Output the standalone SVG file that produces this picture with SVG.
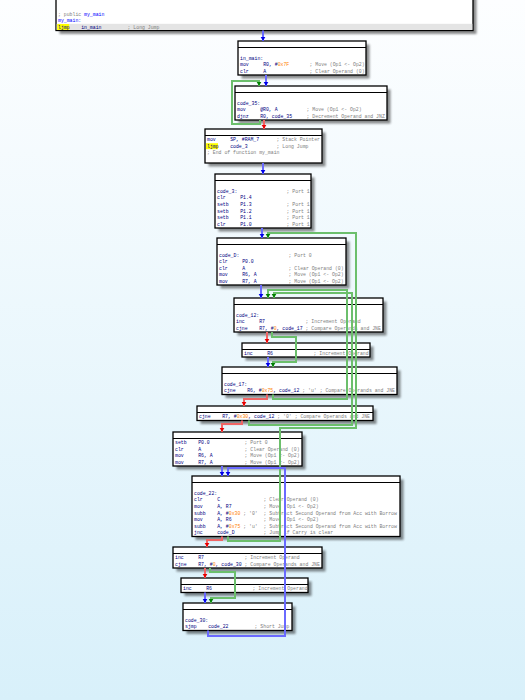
<svg xmlns="http://www.w3.org/2000/svg" width="525" height="700" viewBox="0 0 525 700" xml:space="preserve">
<defs>
<linearGradient id="bg" x1="0" y1="0" x2="0" y2="1"><stop offset="0" stop-color="#fdfeff"/><stop offset="1" stop-color="#d8f0fa"/></linearGradient>
<filter id="blur" x="-10%" y="-10%" width="120%" height="120%"><feGaussianBlur stdDeviation="1.3"/></filter>
<marker id="ab" viewBox="0 -3 5 6" refX="4.5" refY="0" markerWidth="5" markerHeight="6" markerUnits="userSpaceOnUse" orient="auto"><path d="M0,-2.6 L4.5,0 L0,2.6 z" fill="#0000e8"/></marker>
<marker id="ag" viewBox="0 -3 5 6" refX="4.5" refY="0" markerWidth="5" markerHeight="6" markerUnits="userSpaceOnUse" orient="auto"><path d="M0,-2.6 L4.5,0 L0,2.6 z" fill="#008000"/></marker>
<marker id="ar" viewBox="0 -3 5 6" refX="4.5" refY="0" markerWidth="5" markerHeight="6" markerUnits="userSpaceOnUse" orient="auto"><path d="M0,-2.6 L4.5,0 L0,2.6 z" fill="#e80000"/></marker>
</defs>
<style>
text{font-family:"Liberation Mono","DejaVu Sans Mono",monospace;font-size:4.83px;fill:#000080;white-space:pre}
.c{fill:#808080}
.n{fill:#ff8000}
.nm{fill:#0000ff}
.box{fill:#ffffff;stroke:#000000;stroke-width:1.3}
.sh{fill:#000000;opacity:.45;filter:url(#blur)}
.hd{stroke:#000000;stroke-width:1}
.hl{fill:#e4e4e4}
.yl{fill:#ffff00}
.e{fill:none;stroke-width:2}
.eb{stroke:#6a6aff;marker-end:url(#ab)}
.eg{stroke:#6cbf6c;marker-end:url(#ag)}
.er{stroke:#f06666;marker-end:url(#ar)}
</style>
<rect x="0" y="0" width="525" height="700" fill="url(#bg)"/>

<g id="n_my_main">
<rect class="sh" x="59.5" y="-16.5" width="417" height="50.5"/>
<rect class="box" x="56" y="-20" width="417" height="50.5"/>
<rect class="hl" x="56.7" y="23.8" width="415.6" height="6.2"/>
<rect class="yl" x="57.2" y="24" width="12" height="6"/>
<text x="58" y="15.5"><tspan class="c">; public </tspan><tspan class="nm">my_main</tspan></text>
<text x="58" y="22" class="nm">my_main:</text>
<text x="58" y="28.5">ljmp    in_main<tspan class="c">         ; Long Jump</tspan></text>
</g>

<g id="n_in_main">
<rect class="sh" x="241.5" y="44.5" width="128" height="34"/>
<rect class="box" x="238" y="41" width="128" height="34"/>
<line class="hd" x1="238" y1="47.5" x2="366" y2="47.5"/>
<text x="240" y="59.7">in_main:</text>
<text x="240" y="66.3">mov     R0, #<tspan class="n">0x7F</tspan><tspan class="c">       ; Move (Op1 &lt;- Op2)</tspan></text>
<text x="240" y="72.9">clr     A<tspan class="c">               ; Clear Operand (0)</tspan></text>
</g>

<g id="n_code_35">
<rect class="sh" x="238.5" y="89.5" width="152" height="34"/>
<rect class="box" x="235" y="86" width="152" height="34"/>
<line class="hd" x1="235" y1="92.5" x2="387" y2="92.5"/>
<text x="237" y="104.7">code_35:</text>
<text x="237" y="111.3">mov     @R0, A<tspan class="c">          ; Move (Op1 &lt;- Op2)</tspan></text>
<text x="237" y="117.9">djnz    R0, code_35<tspan class="c">     ; Decrement Operand and JNZ</tspan></text>
</g>

<g id="n_stack">
<rect class="sh" x="208.5" y="132.5" width="117" height="34"/>
<rect class="box" x="205" y="129" width="117" height="34"/>
<line class="hd" x1="205" y1="135.5" x2="322" y2="135.5"/>
<rect class="yl" x="206" y="143.2" width="12" height="6"/>
<text x="207" y="141.1">mov     SP, #RAM_7<tspan class="c">      ; Stack Pointer</tspan></text>
<text x="207" y="147.7">ljmp    code_3<tspan class="c">          ; Long Jump</tspan></text>
<text x="207" y="154.3" class="c">; End of function my_main</text>
</g>

<g id="n_code_3">
<rect class="sh" x="218.5" y="177.5" width="96" height="54"/>
<rect class="box" x="215" y="174" width="96" height="54"/>
<line class="hd" x1="215" y1="180.5" x2="311" y2="180.5"/>
<text x="217" y="192.7">code_3:<tspan class="c">                 ; Port 1</tspan></text>
<text x="217" y="199.3">clr     P1.4</text>
<text x="217" y="205.9">setb    P1.3<tspan class="c">            ; Port 1</tspan></text>
<text x="217" y="212.5">setb    P1.2<tspan class="c">            ; Port 1</tspan></text>
<text x="217" y="219.1">setb    P1.1<tspan class="c">            ; Port 1</tspan></text>
<text x="217" y="225.7">clr     P1.0<tspan class="c">            ; Port 1</tspan></text>
</g>

<g id="n_code_D">
<rect class="sh" x="220.5" y="241.5" width="129" height="47"/>
<rect class="box" x="217" y="238" width="129" height="47"/>
<line class="hd" x1="217" y1="244.5" x2="346" y2="244.5"/>
<text x="219" y="256.5">code_D:<tspan class="c">                 ; Port 0</tspan></text>
<text x="219" y="263.1">clr     P0.0</text>
<text x="219" y="269.7">clr     A<tspan class="c">               ; Clear Operand (0)</tspan></text>
<text x="219" y="276.3">mov     R6, A<tspan class="c">           ; Move (Op1 &lt;- Op2)</tspan></text>
<text x="219" y="282.9">mov     R7, A<tspan class="c">           ; Move (Op1 &lt;- Op2)</tspan></text>
</g>

<g id="n_code_12">
<rect class="sh" x="237.5" y="301.5" width="149" height="34"/>
<rect class="box" x="234" y="298" width="149" height="34"/>
<line class="hd" x1="234" y1="304.5" x2="383" y2="304.5"/>
<text x="236" y="316.7">code_12:</text>
<text x="236" y="323.3">inc     R7<tspan class="c">              ; Increment Operand</tspan></text>
<text x="236" y="329.9">cjne    R7, #<tspan class="n">0</tspan>, code_17<tspan class="c"> ; Compare Operands and JNE</tspan></text>
</g>

<g id="n_inc_r6_a">
<rect class="sh" x="245.5" y="346.5" width="128" height="14"/>
<rect class="box" x="242" y="343" width="128" height="14"/>
<line class="hd" x1="242" y1="349.5" x2="370" y2="349.5"/>
<text x="244" y="355.3">inc     R6<tspan class="c">              ; Increment Operand</tspan></text>
</g>

<g id="n_code_17">
<rect class="sh" x="225.5" y="370.5" width="175" height="27.5"/>
<rect class="box" x="222" y="367" width="175" height="27.5"/>
<line class="hd" x1="222" y1="373.5" x2="397" y2="373.5"/>
<text x="224" y="385.7">code_17:</text>
<text x="224" y="392.3">cjne    R6, #<tspan class="n">0x75</tspan>, code_12<tspan class="c"> ; 'u' ; Compare Operands and JNE</tspan></text>
</g>

<g id="n_cjne_r7">
<rect class="sh" x="200.5" y="409.5" width="176" height="14.5"/>
<rect class="box" x="197" y="406" width="176" height="14.5"/>
<line class="hd" x1="197" y1="412.5" x2="373" y2="412.5"/>
<text x="199" y="418.3">cjne    R7, #<tspan class="n">0x30</tspan>, code_12<tspan class="c"> ; '0' ; Compare Operands and JNE</tspan></text>
</g>

<g id="n_setb">
<rect class="sh" x="176.5" y="435.5" width="129" height="34"/>
<rect class="box" x="173" y="432" width="129" height="34"/>
<line class="hd" x1="173" y1="438.5" x2="302" y2="438.5"/>
<text x="175" y="444.1">setb    P0.0<tspan class="c">            ; Port 0</tspan></text>
<text x="175" y="450.7">clr     A<tspan class="c">               ; Clear Operand (0)</tspan></text>
<text x="175" y="457.3">mov     R6, A<tspan class="c">           ; Move (Op1 &lt;- Op2)</tspan></text>
<text x="175" y="463.9">mov     R7, A<tspan class="c">           ; Move (Op1 &lt;- Op2)</tspan></text>
</g>

<g id="n_code_22">
<rect class="sh" x="195.5" y="479.5" width="208" height="60.5"/>
<rect class="box" x="192" y="476" width="208" height="60.5"/>
<line class="hd" x1="192" y1="482.5" x2="400" y2="482.5"/>
<text x="194" y="494.7">code_22:</text>
<text x="194" y="501.3">clr     C<tspan class="c">               ; Clear Operand (0)</tspan></text>
<text x="194" y="507.9">mov     A, R7<tspan class="c">           ; Move (Op1 &lt;- Op2)</tspan></text>
<text x="194" y="514.5">subb    A, #<tspan class="n">0x30</tspan><tspan class="c"> ; '0'  ; Subtract Second Operand from Acc with Borrow</tspan></text>
<text x="194" y="521.1">mov     A, R6<tspan class="c">           ; Move (Op1 &lt;- Op2)</tspan></text>
<text x="194" y="527.7">subb    A, #<tspan class="n">0x75</tspan><tspan class="c"> ; 'u'  ; Subtract Second Operand from Acc with Borrow</tspan></text>
<text x="194" y="534.3">jnc     code_D<tspan class="c">          ; Jump if Carry is clear</tspan></text>
</g>

<g id="n_inc_r7">
<rect class="sh" x="176.5" y="550.5" width="149" height="21"/>
<rect class="box" x="173" y="547" width="149" height="21"/>
<line class="hd" x1="173" y1="553.5" x2="322" y2="553.5"/>
<text x="175" y="559.3">inc     R7<tspan class="c">              ; Increment Operand</tspan></text>
<text x="175" y="565.9">cjne    R7, #<tspan class="n">0</tspan>, code_30<tspan class="c"> ; Compare Operands and JNE</tspan></text>
</g>

<g id="n_inc_r6_b">
<rect class="sh" x="184.5" y="581.5" width="127" height="14.5"/>
<rect class="box" x="181" y="578" width="127" height="14.5"/>
<line class="hd" x1="181" y1="584.5" x2="308" y2="584.5"/>
<text x="183" y="590.3">inc     R6<tspan class="c">              ; Increment Operand</tspan></text>
</g>

<g id="n_code_30">
<rect class="sh" x="186.5" y="606.5" width="109" height="27.5"/>
<rect class="box" x="183" y="603" width="109" height="27.5"/>
<line class="hd" x1="183" y1="609.5" x2="292" y2="609.5"/>
<text x="185" y="621.7">code_30:</text>
<text x="185" y="628.3">sjmp    code_22<tspan class="c">         ; Short Jump</tspan></text>
</g>

<g id="connectors">
<path class="e eb" d="M263,30.5 V41"/>
<path class="e eb" d="M266,75 V86"/>
<path class="e eg" d="M260,120 V124 H232 V81 H259 V86"/>
<path class="e er" d="M264,120 V129"/>
<path class="e eb" d="M263,163 V174"/>
<path class="e eb" d="M262,228 V238"/>
<path class="e eg" d="M228,536.5 V541 H280 V428 H356 V233 H268 V238"/>
<path class="e eb" d="M261,285 V298"/>
<path class="e eg" d="M273,394.5 V399 H347 V290 H268 V298"/>
<path class="e eg" d="M249,420.5 V425 H352 V293 H274 V298"/>
<path class="e er" d="M267,332 V343"/>
<path class="e eg" d="M272,332 V337 H296 V362 H273 V367"/>
<path class="e eb" d="M268,357 V367"/>
<path class="e er" d="M267,394.5 V399 H244 V406"/>
<path class="e er" d="M242,420.5 V424 H222 V432"/>
<path class="e eb" d="M222,466 V476"/>
<path class="e eb" d="M208,630.5 V636 H285 V468 H228 V476"/>
<path class="e er" d="M222,536.5 V540 H207 V547"/>
<path class="e er" d="M205,568 V578"/>
<path class="e eg" d="M210,568 V572 H235 V598 H211 V603"/>
<path class="e eb" d="M205,592.5 V603"/>
</g>
</svg>
